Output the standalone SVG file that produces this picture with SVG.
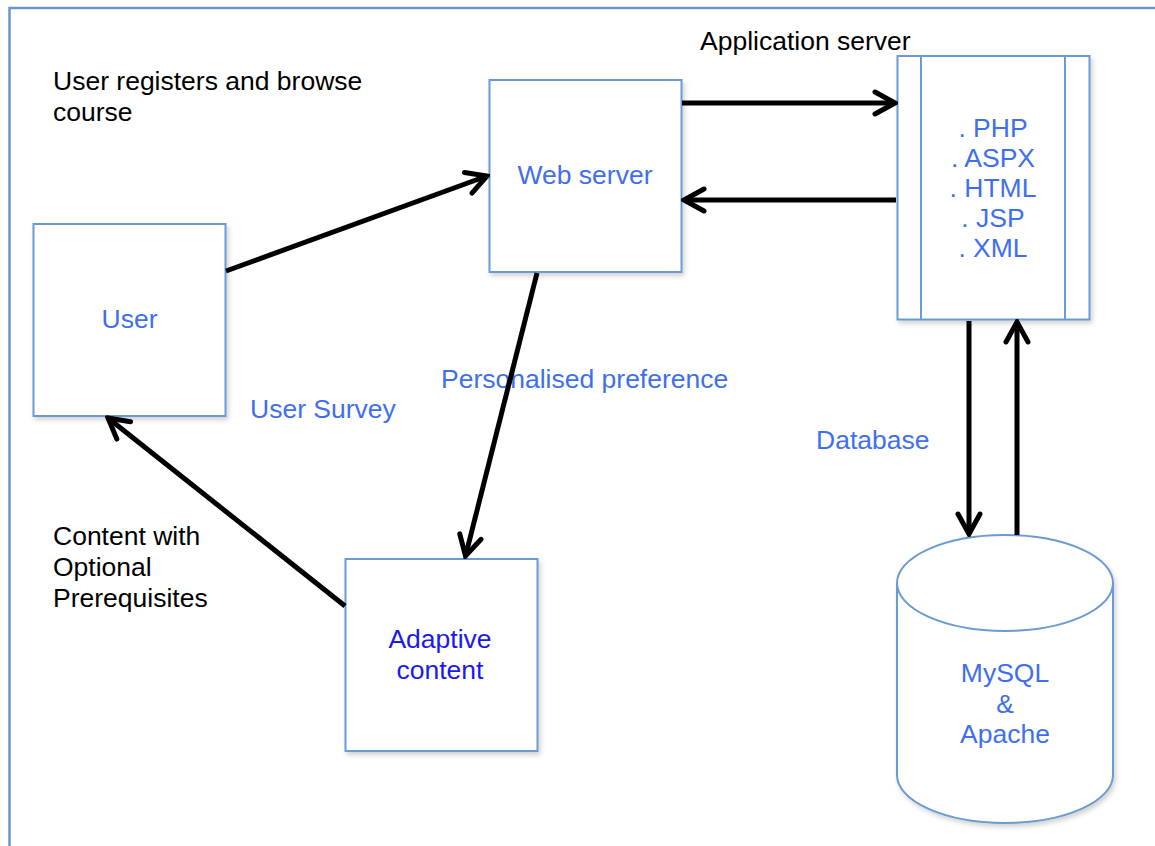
<svg xmlns="http://www.w3.org/2000/svg" width="1155" height="846" viewBox="0 0 1155 846">
  <style>
    .box { fill: #ffffff; stroke: #6b9bd2; stroke-width: 2; }
    .lbl { font-family: "Liberation Sans", Arial, sans-serif; font-size: 26.5px; }
    .blue { fill: #3f6ff0; }
    .dblue { fill: #1a1af0; }
    .black { fill: #000000; }
    .conn { stroke: #000000; stroke-width: 5; fill: none; marker-end: url(#arrow); }
  </style>
  <defs>
    <marker id="arrow" markerUnits="userSpaceOnUse" viewBox="0 0 30 30" markerWidth="30" markerHeight="30" refX="27" refY="15" orient="auto">
      <path d="M7,4 L27,15 L7,26" fill="none" stroke="#000000" stroke-width="5" stroke-linecap="round" stroke-linejoin="miter"/>
    </marker>
    <filter id="sh" x="-10%" y="-10%" width="125%" height="125%">
      <feDropShadow dx="2" dy="3" stdDeviation="2.5" flood-color="#000000" flood-opacity="0.18"/>
    </filter>
  </defs>
  <rect x="0" y="0" width="1155" height="846" fill="#ffffff"/>
  <g id="frame">
    <path d="M9.5,846 L9.5,8 L1155,8" fill="none" stroke="#6b96cc" stroke-width="2.5"/>
  </g>
  <g id="texts">
    <text class="lbl black" x="700" y="50">Application server</text>
    <text class="lbl black" x="53" y="90">User registers and browse</text>
    <text class="lbl black" x="53" y="121">course</text>
    <text class="lbl blue" x="441" y="388">Personalised preference</text>
    <text class="lbl blue" x="250" y="418">User Survey</text>
    <text class="lbl blue" x="816" y="449">Database</text>
    <text class="lbl black" x="53" y="545">Content with</text>
    <text class="lbl black" x="53" y="576">Optional</text>
    <text class="lbl black" x="53" y="607">Prerequisites</text>
  </g>
  <g id="user">
    <rect class="box" x="33.5" y="224" width="192" height="192" filter="url(#sh)"/>
    <text class="lbl blue" x="129.5" y="328" text-anchor="middle">User</text>
  </g>
  <g id="web-server">
    <rect class="box" x="489.5" y="80" width="192" height="192" filter="url(#sh)"/>
    <text class="lbl blue" x="585" y="184" text-anchor="middle">Web server</text>
  </g>
  <g id="adaptive-content">
    <rect class="box" x="345.5" y="559" width="192" height="192" filter="url(#sh)"/>
    <text class="lbl dblue" x="440" y="648" text-anchor="middle">Adaptive</text>
    <text class="lbl dblue" x="440" y="679" text-anchor="middle">content</text>
  </g>
  <g id="application-server">
    <rect class="box" x="897.5" y="56" width="192" height="263.5" filter="url(#sh)"/>
    <line x1="921" y1="56" x2="921" y2="319.5" stroke="#6b9bd2" stroke-width="2"/>
    <line x1="1065" y1="56" x2="1065" y2="319.5" stroke="#6b9bd2" stroke-width="2"/>
    <text class="lbl blue" x="993" y="137" text-anchor="middle">. PHP</text>
    <text class="lbl blue" x="993" y="167" text-anchor="middle">. ASPX</text>
    <text class="lbl blue" x="993" y="197" text-anchor="middle">. HTML</text>
    <text class="lbl blue" x="993" y="227" text-anchor="middle">. JSP</text>
    <text class="lbl blue" x="993" y="257" text-anchor="middle">. XML</text>
  </g>
  <g id="database">
    <path d="M897,583 L897,775 A108,48 0 0 0 1113,775 L1113,583 A108,48 0 0 0 897,583 A108,48 0 0 0 1113,583" fill="#ffffff" stroke="#6b9bd2" stroke-width="2" filter="url(#sh)"/>
    <text class="lbl blue" x="1005" y="682" text-anchor="middle">MySQL</text>
    <text class="lbl blue" x="1005" y="713" text-anchor="middle">&amp;</text>
    <text class="lbl blue" x="1005" y="743" text-anchor="middle">Apache</text>
  </g>
  <g id="connectors">
    <line class="conn" x1="226" y1="271" x2="487" y2="176"/>
    <line class="conn" x1="682" y1="103" x2="895" y2="103"/>
    <line class="conn" x1="896" y1="200" x2="684" y2="200"/>
    <line class="conn" x1="537" y1="273" x2="465.5" y2="556"/>
    <line class="conn" x1="345" y1="606" x2="108" y2="418"/>
    <line class="conn" x1="969" y1="321" x2="969" y2="534"/>
    <line class="conn" x1="1017" y1="535" x2="1017" y2="322"/>
  </g>
</svg>
